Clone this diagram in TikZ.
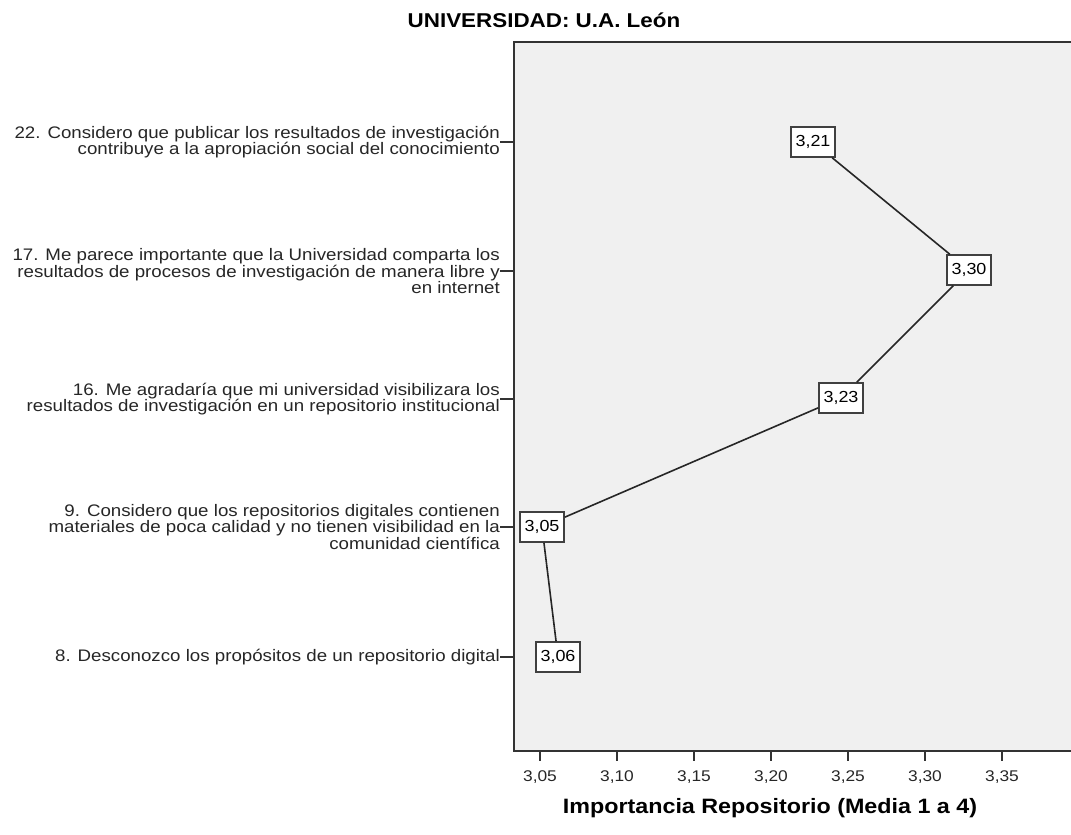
\documentclass[tikz,border=0pt]{standalone}
\usepackage{fontspec}
\newfontfamily\spssfont[FakeStretch=1.12]{Liberation Sans}
\usetikzlibrary{positioning}

\definecolor{plotbg}{HTML}{F0F0F0}
\definecolor{frameline}{HTML}{333333}

\tikzset{
    itemlabel/.style={anchor=east, align=right, inner sep=0pt, text=black!85,
        font=\spssfont\fontsize{16.7}{14.8}\selectfont},
    meanbox/.style={draw=black!75, fill=white, line width=1.5pt, inner sep=0pt,
        minimum width=44, minimum height=30, font=\spssfont\fontsize{16}{16}\selectfont},
    ticklabel/.style={inner sep=0pt, text=black!85,
        font=\spssfont\fontsize{15.5}{15.5}\selectfont}
}

\begin{document}
\begin{tikzpicture}[x=1pt,y=-1pt]
        \useasboundingbox (0,0) rectangle (1071,835);

        % Plot area
        \fill[plotbg] (514,42) rectangle (1072,751);
        \draw[frameline,line width=1.5pt] (1072,42) -- (514,42) -- (514,751) -- (1072,751);

        % Title
        \node[font=\spssfont\bfseries\fontsize{20}{20}\selectfont] (title) at (544,20) {UNIVERSIDAD: U.A. León};

        % X-axis ticks and labels
        \foreach \x/\t in {540/05,617/10,694/15,771/20,848/25,925/30,1002/35} {
            \draw[frameline,line width=1.3pt] (\x,751) -- (\x,761);
            \node[ticklabel] (tick\t) at (\x,777) {3,\t};
        }

        % X-axis title
        \node[font=\spssfont\bfseries\fontsize{20.8}{20.8}\selectfont] (xtitle) at (770,808) {Importancia Repositorio (Media 1 a 4)};

        % Item labels (left)
        \node[itemlabel] (q22) at (500,142) {22. Considero que publicar los resultados de investigación\\contribuye a la apropiación social del conocimiento};
        \node[itemlabel] (q17) at (500,271) {17. Me parece importante que la Universidad comparta los\\resultados de procesos de investigación de manera libre y\\en internet};
        \node[itemlabel] (q16) at (500,399) {16. Me agradaría que mi universidad visibilizara los\\resultados de investigación en un repositorio institucional};
        \node[itemlabel] (q9) at (500,527) {9. Considero que los repositorios digitales contienen\\materiales de poca calidad y no tienen visibilidad en la\\comunidad científica};
        \node[itemlabel] (q8) at (500,657) {8. Desconozco los propósitos de un repositorio digital};

        % Y-axis ticks
        \foreach \q in {q22,q17,q16,q9,q8} {
            \draw[frameline,line width=1.3pt] (\q.east) -- ++(14,0);
        }

        % Means (boxes) and profile line
        \node[meanbox] (m22) at (813,142) {3,21};
        \node[meanbox] (m17) at (969,270) {3,30};
        \node[meanbox] (m16) at (841,398) {3,23};
        \node[meanbox] (m9) at (542,527) {3,05};
        \node[meanbox] (m8) at (558,657) {3,06};
        \draw[black!85,line width=1.6pt] (m22) -- (m17) -- (m16) -- (m9) -- (m8);

\end{tikzpicture}
\end{document}
